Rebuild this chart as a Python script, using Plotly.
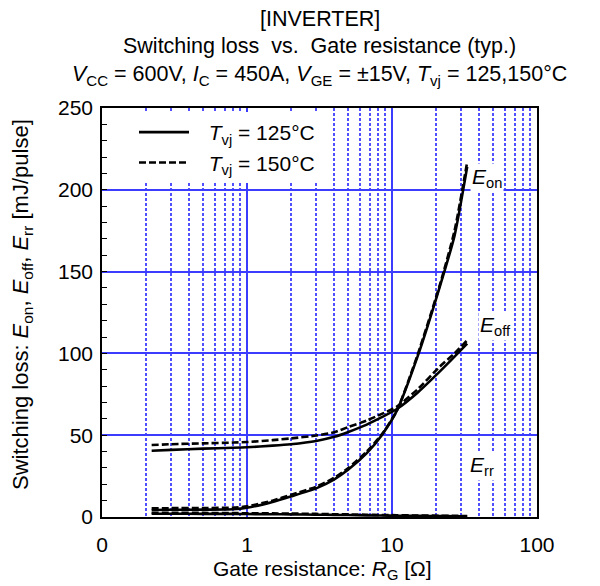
import math
import plotly.graph_objects as go

# Gate resistance [ohm]
rg = [0.22, 0.3, 0.5, 0.8, 1.0, 1.5, 2, 3, 4, 5, 6.7, 8.5, 10.8, 15, 21.4, 27, 33]

# Tvj = 125 C
eon_125 = [4.3, 4.4, 4.5, 4.7, 5.6, 9.2, 12.5, 17.5, 23, 29, 39, 50, 65, 98, 141, 172, 214]
eoff_125 = [40.5, 41, 41.8, 42.3, 42.6, 43.6, 44.5, 46.5, 49, 52, 56.5, 61, 66, 76, 89, 98, 106]
err_125 = [2.0, 2.0, 1.9, 1.9, 1.8, 1.7, 1.6, 1.4, 1.3, 1.2, 1.0, 0.9, 0.8, 0.7, 0.6, 0.5, 0.5]

# Tvj = 150 C
eon_150 = [5.3, 5.4, 5.5, 5.7, 6.5, 10, 13.5, 18.5, 24, 30, 40, 50.5, 65, 99, 142, 175, 217]
eoff_150 = [44, 44.5, 45, 45.5, 45.8, 47, 48, 49.8, 51.8, 55, 59, 63, 67.5, 78, 92, 100, 108]
err_150 = [2.6, 2.6, 2.5, 2.4, 2.3, 2.2, 2.1, 1.9, 1.7, 1.6, 1.4, 1.2, 1.1, 0.9, 0.8, 0.7, 0.6]

x_tickvals = [0.1, 1, 10, 100]
x_ticktext = ["0", "1", "10", "100"]
y_tickvals = [0, 50, 100, 150, 200, 250]

FONT = "Liberation Sans, Arial, sans-serif"
GRID = "rgb(60,60,255)"
MINOR_GRID = "rgb(80,80,255)"
FS = 21

# page pixel geometry of the plot area (the page body adds an 8px offset)
PL, PT, PW, PH = 102, 108, 435, 409


def px(xp):
    return (xp - PL) / PW


def py(yp):
    return (PT + PH - yp) / PH


fig = go.Figure()

series = [
    (eon_125, "solid", "\u2002\u2009<i>T</i><sub>vj</sub> = 125°C", True),
    (eoff_125, "solid", None, False),
    (err_125, "solid", None, False),
    (eon_150, "7px,3px", "\u2002\u2009<i>T</i><sub>vj</sub> = 150°C", True),
    (eoff_150, "7px,3px", None, False),
    (err_150, "7px,3px", None, False),
]
for ys, dash, name, show in series:
    fig.add_trace(go.Scatter(
        x=rg, y=ys, mode="lines", name=name, showlegend=show,
        line=dict(color="black", width=2.6, dash=dash, shape="spline", smoothing=0.6),
    ))

fig.update_xaxes(
    type="log", range=[-1, 2], automargin=False,
    tickvals=x_tickvals, ticktext=x_ticktext, ticks="",
    showgrid=True, gridcolor=GRID, gridwidth=1.8,
    minor=dict(showgrid=True, gridcolor=MINOR_GRID, griddash="3px,2px", gridwidth=1.8, dtick="D1"),
    showline=True, linecolor="black", linewidth=1.5, mirror=True,
    tickfont=dict(family=FONT, size=FS, color="black"),
    ticklabelstandoff=8,
    zeroline=False,
)
fig.update_yaxes(
    range=[0, 250], tickvals=y_tickvals, automargin=False,
    ticks="inside", ticklen=5, tickcolor="black",
    minor=dict(ticks="inside", dtick=10, ticklen=5, tickcolor="black", showgrid=False),
    showgrid=True, gridcolor=GRID, gridwidth=1.8,
    showline=True, linecolor="black", linewidth=1.5, mirror=True,
    tickfont=dict(family=FONT, size=FS, color="black"),
    ticklabelstandoff=3,
    zeroline=False,
)

# axis titles
fig.add_annotation(text="Gate resistance: <i>R</i><sub>G</sub> [Ω]", xref="paper", yref="paper",
                   x=px(322), y=py(570), showarrow=False, xanchor="center", yanchor="middle",
                   font=dict(family=FONT, size=FS, color="black"))
fig.add_annotation(text="Switching loss: <i>E</i><sub>on</sub>, <i>E</i><sub>off</sub>, <i>E</i><sub>rr</sub> [mJ/pulse]",
                   xref="paper", yref="paper", x=px(22), y=py(305), textangle=-90,
                   showarrow=False, xanchor="center", yanchor="middle",
                   font=dict(family=FONT, size=22, color="black"))

title_lines = [
    ("[INVERTER]", 19),
    ("Switching loss  vs.  Gate resistance (typ.)", 46),
    ("<i>V</i><sub>CC</sub> = 600V, <i>I</i><sub>C</sub> = 450A, <i>V</i><sub>GE</sub> = ±15V, <i>T</i><sub>vj</sub> = 125,150°C", 75),
]
for txt, ypx in title_lines:
    fig.add_annotation(text=txt, xref="paper", yref="paper", x=0.5, y=py(ypx),
                       showarrow=False, xanchor="center", yanchor="middle",
                       font=dict(family=FONT, size=21.5, color="black"))

# curve labels (annotation x on a log axis is given as log10 of the value)
labels = [
    ("<i>E</i><sub>on</sub>", 45, 207),
    ("<i>E</i><sub>off</sub>", 52, 117),
    ("<i>E</i><sub>rr</sub>", 42, 31),
]
for txt, xx, yy in labels:
    fig.add_annotation(text=txt, x=math.log10(xx), y=yy, xref="x", yref="y", showarrow=False,
                       xanchor="center", yanchor="middle", bgcolor="white",
                       font=dict(family=FONT, size=FS, color="black"))

fig.update_layout(
    width=592, height=578,
    margin=dict(l=PL - 8, r=592 - (PL - 8) - PW, t=PT - 8, b=578 - (PT - 8) - PH),
    paper_bgcolor="white", plot_bgcolor="white",
    legend=dict(x=px(134), y=py(112), xanchor="left", yanchor="top",
                bgcolor="white", font=dict(family=FONT, size=FS, color="black"),
                itemwidth=50, tracegroupgap=0),
)

fig.write_html("out.html")
